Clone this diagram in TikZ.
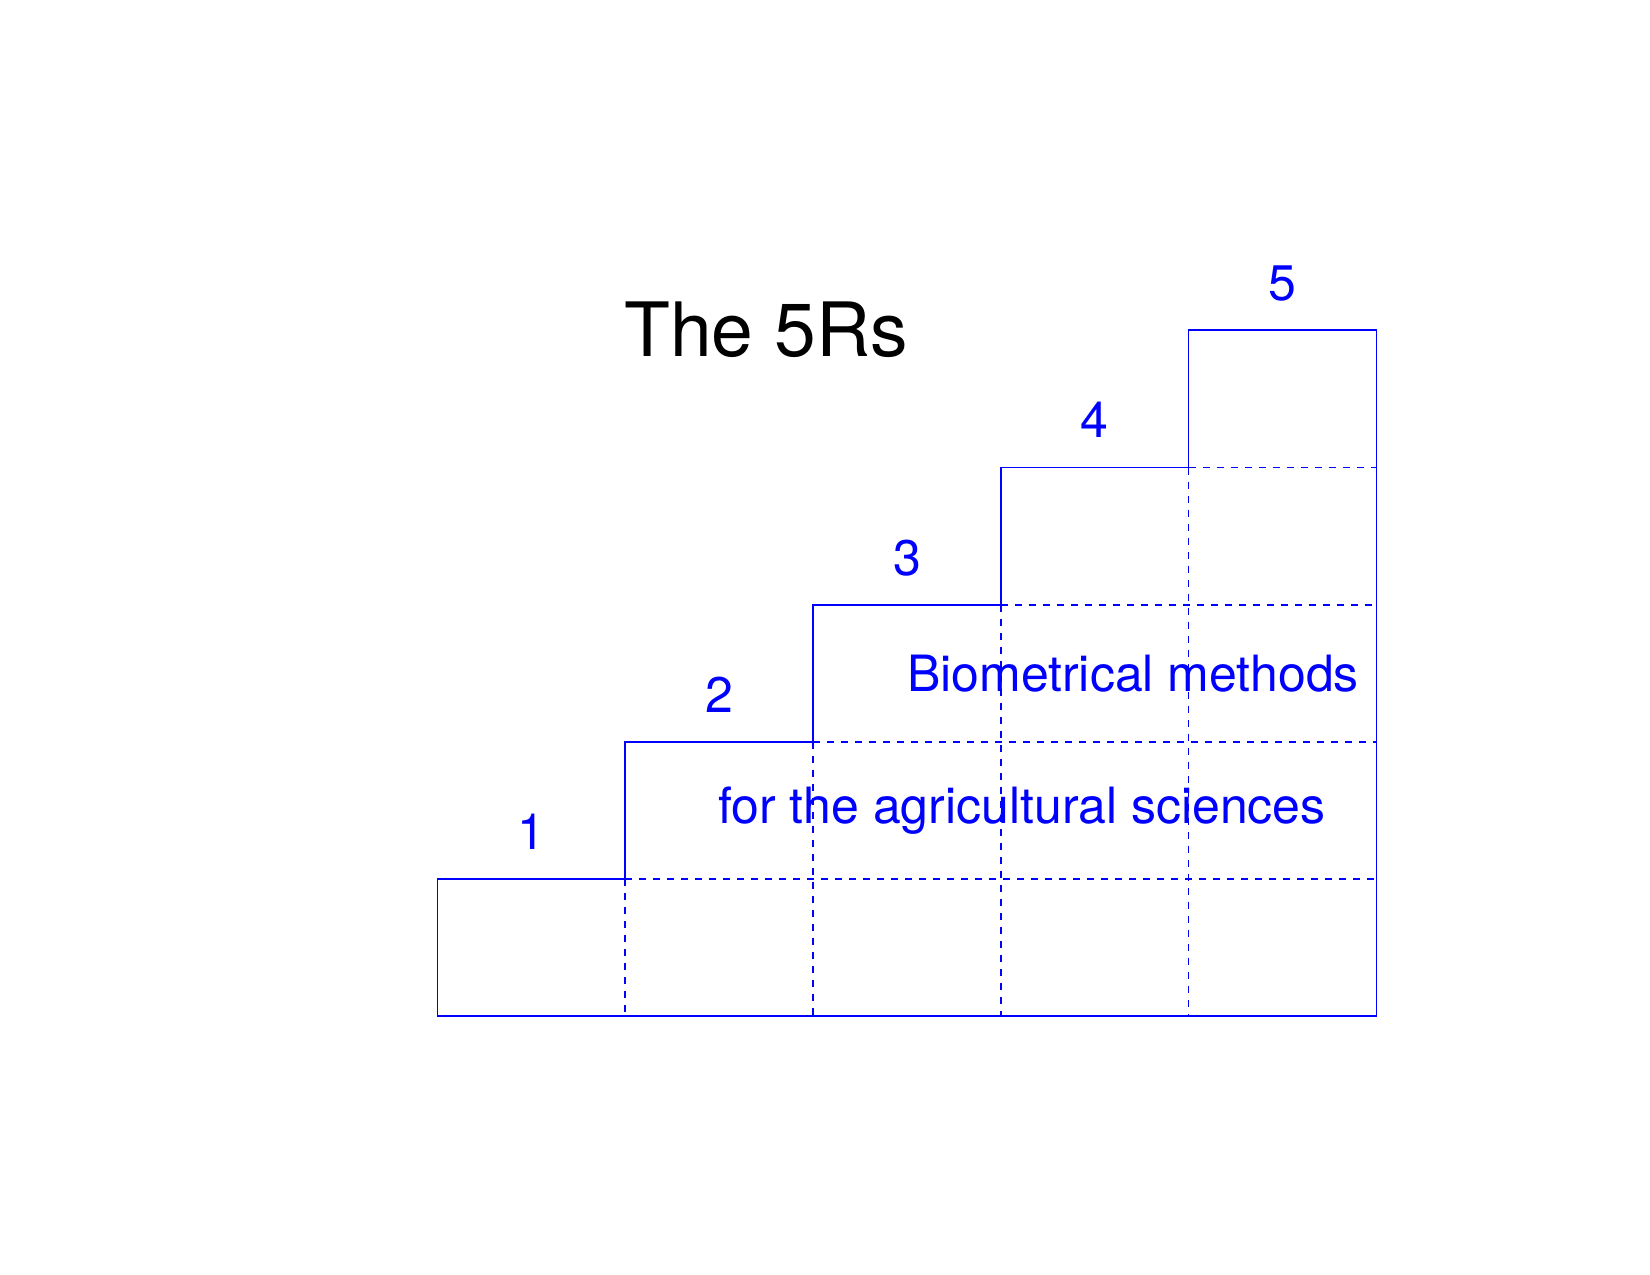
\documentclass[tikz,border=0pt]{standalone}
\usepackage{fontspec}
\setmainfont{TeX Gyre Heros}
\definecolor{rblue}{RGB}{0,0,255}
\begin{document}
\begin{tikzpicture}[x=0.5pt,y=-0.5pt,
  outline/.style={draw=rblue,line width=0.9pt},
  inner/.style={draw=rblue,line width=0.9pt,dash pattern=on 3.5pt off 3.5pt},
  numlbl/.style={text=rblue,font=\fontsize{25}{30}\selectfont,anchor=base,inner sep=0pt},
  bodylbl/.style={text=rblue,font=\fontsize{25}{30}\selectfont,anchor=base,inner sep=0pt},
  titlelbl/.style={text=black,font=\fontsize{37.5}{44}\selectfont,anchor=base west,inner sep=0pt}]
\useasboundingbox (0,0) rectangle (1650,1275);
% column x and row y
\def\xa{437.5}\def\xb{625}\def\xc{813.3}\def\xd{1000.7}\def\xe{1188.5}\def\xf{1376.5}
\def\ya{1015.6}\def\yb{879}\def\yc{742}\def\yd{605}\def\ye{467.5}\def\yf{330}
% dashed interior
\draw[inner] (\xb,\yb) -- (\xf,\yb);
\draw[inner] (\xc,\yc) -- (\xf,\yc);
\draw[inner] (\xd,\yd) -- (\xf,\yd);
\draw[inner] (\xe,\ye) -- (\xf,\ye);
\draw[inner] (\xb,\yb) -- (\xb,\ya);
\draw[inner] (\xc,\yc) -- (\xc,\ya);
\draw[inner] (\xd,\yd) -- (\xd,\ya);
\draw[inner] (\xe,\ye) -- (\xe,\ya);
% solid outline
\draw[outline] (\xa,\ya) -- (\xa,\yb) -- (\xb,\yb) -- (\xb,\yc) -- (\xc,\yc) -- (\xc,\yd)
  -- (\xd,\yd) -- (\xd,\ye) -- (\xe,\ye) -- (\xe,\yf) -- (\xf,\yf) -- (\xf,\ya) -- cycle;
% labels
\node[numlbl] (n1) at ({(\xa+\xb)/2},849) {1};
\node[numlbl] (n2) at ({(\xb+\xc)/2},712) {2};
\node[numlbl] (n3) at ({(\xc+\xd)/2},575) {3};
\node[numlbl] (n4) at ({(\xd+\xe)/2},437.5) {4};
\node[numlbl] (n5) at ({(\xe+\xf)/2},300) {5};
\node[titlelbl] (title) at (624,356.7) {The 5Rs};
\node[bodylbl] (bio) at (1133,691.7) {Biometrical methods};
\node[bodylbl] (agri) at (1022,823.3) {for the agricultural sciences};
\end{tikzpicture}
\end{document}
